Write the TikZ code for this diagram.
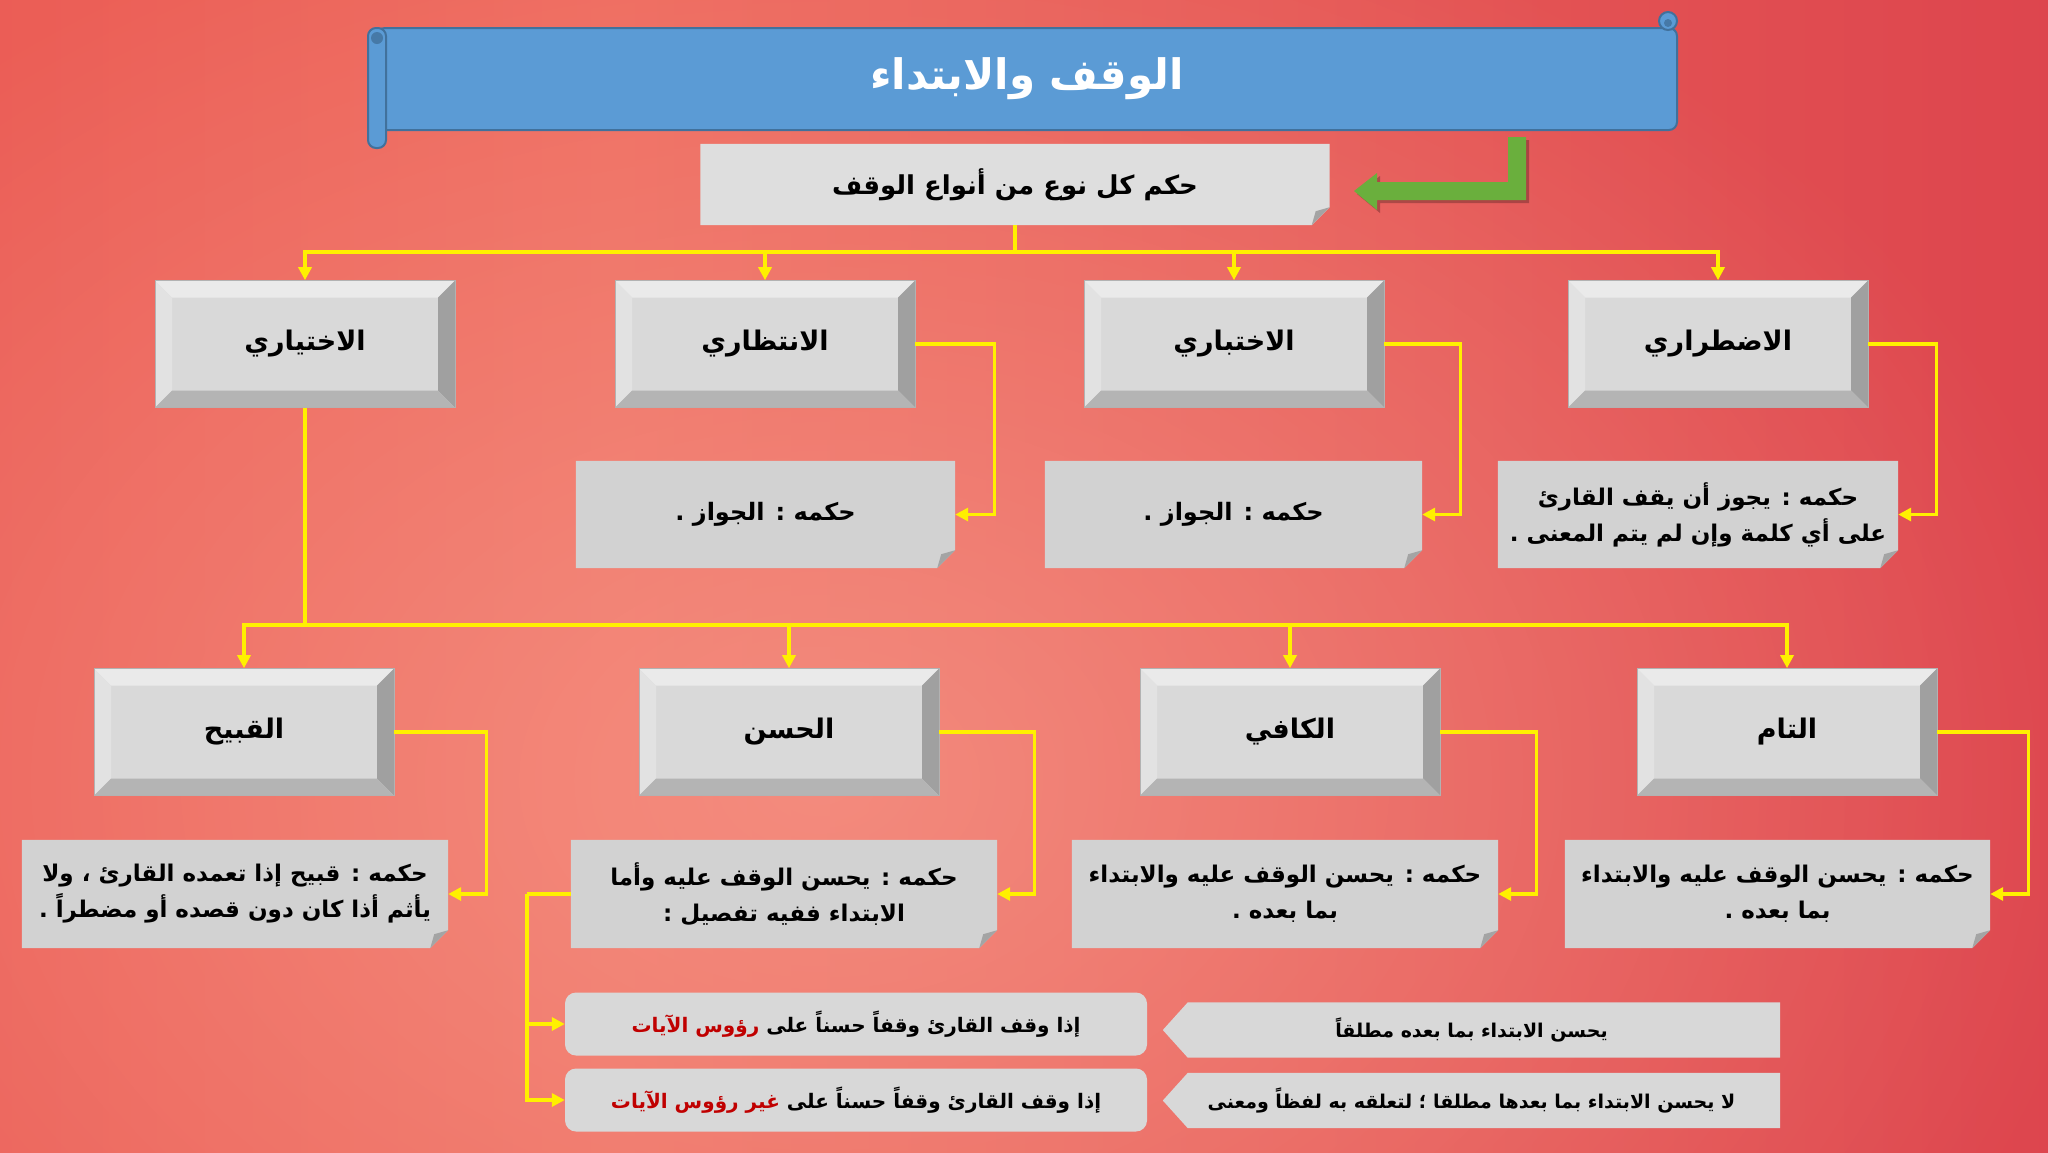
\documentclass[tikz,border=0pt]{standalone}
\usepackage{fontspec}
\newfontfamily\arabicfont[Script=Arabic]{DejaVu Sans}
\TeXXeTstate=1
\usetikzlibrary{arrows.meta,fadings}
\pgfdeclarelayer{back}
\pgfdeclarelayer{shapes}
\pgfsetlayers{back,shapes,main}
\definecolor{bfront}{HTML}{D9D9D9}
\definecolor{btop}{HTML}{EAEAEA}
\definecolor{bleft}{HTML}{E2E2E2}
\definecolor{bright}{HTML}{A0A0A0}
\definecolor{bbot}{HTML}{B4B4B4}
\definecolor{foldc}{HTML}{D2D2D2}
\definecolor{foldlight}{HTML}{DEDEDE}
\definecolor{foldd}{HTML}{A4A4A4}
\definecolor{yl}{HTML}{FFF000}
\definecolor{bannerblue}{HTML}{5B9BD5}
\definecolor{bannerline}{HTML}{41719C}
\definecolor{grn}{HTML}{6AAF3D}
\definecolor{dred}{HTML}{C00000}
\definecolor{bgl}{HTML}{E64848}
\definecolor{bgm}{HTML}{EE6A5E}
\definecolor{bgr}{HTML}{D12B42}
\definecolor{bglight}{HTML}{F8A090}
\definecolor{botbox}{HTML}{D8D8D8}
\pgfdeclarehorizontalshading{bgshade}{100bp}{color(0bp)=(bgl); color(40bp)=(bgm); color(100bp)=(bgr)}
\tikzfading[name=radfade, inner color=transparent!35, outer color=transparent!100]
\newcommand\rtl[1]{\beginR#1\endR}
\newcommand\lblfont{\arabicfont\bfseries\fontsize{27}{32}\selectfont}
\newcommand\hkmfont{\arabicfont\bfseries\fontsize{24}{36}\selectfont}
\newcommand\hkmfontb{\arabicfont\bfseries\fontsize{23}{36}\selectfont}
\newcommand\smallarfont{\arabicfont\bfseries\fontsize{20}{24}\selectfont}
\tikzset{
  bevelbox/.style={rectangle, minimum width=300pt, minimum height=127pt, inner sep=0pt,
    fill=bfront, draw=gray!60, line width=0.6pt, font=\lblfont,
    path picture={
      \path (path picture bounding box.north west) coordinate (pnw)
            (path picture bounding box.north east) coordinate (pne)
            (path picture bounding box.south west) coordinate (psw)
            (path picture bounding box.south east) coordinate (pse);
      \fill[btop] (pnw) -- (pne) -- ([shift={(-17pt,-17pt)}]pne) -- ([shift={(17pt,-17pt)}]pnw) -- cycle;
      \fill[bleft] (pnw) -- ([shift={(17pt,-17pt)}]pnw) -- ([shift={(17pt,17pt)}]psw) -- (psw) -- cycle;
      \fill[bright] (pne) -- (pse) -- ([shift={(-17pt,17pt)}]pse) -- ([shift={(-17pt,-17pt)}]pne) -- cycle;
      \fill[bbot] (psw) -- (pse) -- ([shift={(-17pt,17pt)}]pse) -- ([shift={(17pt,17pt)}]psw) -- cycle;
    }},
  foldbox/.style={rectangle, inner sep=0pt, align=center, font=\hkmfont},
  lbox/.style={rectangle, rounded corners=11pt, fill=botbox, minimum width=582pt, minimum height=63pt, inner sep=0pt, font=\smallarfont},
  rbox/.style={rectangle, minimum width=617pt, minimum height=55pt, inner sep=0pt, font=\arabicfont\bfseries\fontsize{19}{24}\selectfont},
  yline/.style={draw=yl, line width=3.5pt},
  yarrow/.style={yline, -{Triangle[length=13pt,width=13pt]}},
}
\begin{document}
\begin{tikzpicture}[x=1pt,y=-1pt]
\useasboundingbox (0,0) rectangle (2048,1152);
\begin{pgfonlayer}{back}
  \shade[shading=bgshade] (0,0) rectangle (2048,1152);
  \begin{scope}
    \clip (0,0) rectangle (2048,1152);
    \fill[bglight, path fading=radfade] (820,780) ellipse (1300 and 950);
  \end{scope}
\end{pgfonlayer}

% title banner
\node[rectangle, rounded corners=8pt, fill=bannerblue, draw=bannerline, line width=2pt,
  minimum width=1300pt, minimum height=102pt, inner sep=0pt, text=white,
  font=\arabicfont\bfseries\fontsize{42}{50}\selectfont] (title) at (1027,79) {\rtl{الوقف والابتداء}};
\fill[bannerblue, draw=bannerline, line width=2pt, rounded corners=8pt] (368,28) rectangle (386,148);
\fill[bannerline!80!bannerblue] (377,38) circle (6);
\fill[bannerblue, draw=bannerline, line width=2pt] (1668,21) circle (9);
\fill[bannerline!80!bannerblue] (1668,23) circle (4);

% sub header
\node[foldbox, minimum width=629pt, minimum height=81pt, font=\arabicfont\bfseries\fontsize{26}{32}\selectfont] (sub) at (1015,184.5) {\rtl{حكم كل نوع من أنواع الوقف}};

% green arrow
\fill[black, opacity=0.25] (1511,140) -- (1529,140) -- (1529,203) -- (1380,203) -- (1380,213) -- (1357,194) -- (1380,176) -- (1380,185) -- (1511,185) -- cycle;
\fill[grn] (1508,137) -- (1526,137) -- (1526,200) -- (1377,200) -- (1377,210) -- (1354,191) -- (1377,173) -- (1377,182) -- (1508,182) -- cycle;

% row 1
\node[bevelbox] (a1) at (305,344) {\rtl{الاختياري}};
\node[bevelbox] (a2) at (765,344) {\rtl{الانتظاري}};
\node[bevelbox] (a3) at (1234,344) {\rtl{الاختباري}};
\node[bevelbox] (a4) at (1718,344) {\rtl{الاضطراري}};

\node[foldbox, minimum width=379pt, minimum height=107pt] (h2) at (765.5,514.5) {\rtl{حكمه : الجواز .}};
\node[foldbox, minimum width=377pt, minimum height=107pt] (h3) at (1233.5,514.5) {\rtl{حكمه : الجواز .}};
\node[foldbox, minimum width=400pt, minimum height=107pt, font=\hkmfontb] (h4) at (1698,514.5) {\rtl{حكمه : يجوز أن يقف القارئ}\\\rtl{على أي كلمة وإن لم يتم المعنى .}};

% row 2
\node[bevelbox] (b1) at (244,732) {\rtl{القبيح}};
\node[bevelbox] (b2) at (789,732) {\rtl{الحسن}};
\node[bevelbox] (b3) at (1290,732) {\rtl{الكافي}};
\node[bevelbox] (b4) at (1787,732) {\rtl{التام}};

\node[foldbox, minimum width=426pt, minimum height=108pt, font=\hkmfontb] (k1) at (235,894) {\rtl{حكمه : قبيح إذا تعمده القارئ ، ولا}\\\rtl{يأثم أذا كان دون قصده أو مضطراً .}};
\node[foldbox, minimum width=426pt, minimum height=108pt, font=\hkmfontb] (k2) at (784,894) {\rtl{حكمه : يحسن الوقف عليه وأما}\\\rtl{الابتداء ففيه تفصيل :}};
\node[foldbox, minimum width=426pt, minimum height=108pt, font=\hkmfontb] (k3) at (1285,894) {\rtl{حكمه : يحسن الوقف عليه والابتداء}\\\rtl{بما بعده .}};
\node[foldbox, minimum width=425pt, minimum height=108pt, font=\hkmfontb] (k4) at (1777.5,894) {\rtl{حكمه : يحسن الوقف عليه والابتداء}\\\rtl{بما بعده .}};

% bottom boxes
\node[lbox] (l1) at (856,1024) {{\color{dred}\rtl{رؤوس الآيات}} \rtl{إذا وقف القارئ وقفاً حسناً على}};
\node[lbox] (l2) at (856,1100) {{\color{dred}\rtl{غير رؤوس الآيات}} \rtl{إذا وقف القارئ وقفاً حسناً على}};
\node[rbox] (r1) at (1471.5,1030) {\rtl{يحسن الابتداء بما بعده مطلقاً}};
\node[rbox] (r2) at (1471.5,1100.5) {\rtl{لا يحسن الابتداء بما بعدها مطلقا ؛ لتعلقه به لفظاً ومعنى}};

\begin{pgfonlayer}{shapes}
  \foreach \n/\c in {sub/foldlight, h2/foldc, h3/foldc, h4/foldc, k1/foldc, k2/foldc, k3/foldc, k4/foldc} {
    \fill[\c] (\n.north west) -- (\n.north east) -- ([yshift=18pt]\n.south east) -- ([xshift=-18pt]\n.south east) -- (\n.south west) -- cycle;
    \fill[foldd] ([yshift=18pt]\n.south east) -- ([xshift=-18pt]\n.south east) -- ([shift={(-14pt,14pt)}]\n.south east) -- cycle;
  }
  \foreach \n in {r1, r2} {
    \fill[botbox] (\n.west) -- ([xshift=25pt]\n.north west) -- (\n.north east) -- (\n.south east) -- ([xshift=25pt]\n.south west) -- cycle;
  }
\end{pgfonlayer}

% connectors
\coordinate (t1) at (1015,252);
\draw[yline] (sub.south) -- (t1);
\foreach \n in {a1,a2,a3,a4} \draw[yarrow] (t1) -| (\n.north);
\draw[yarrow] (a2.east) -- ++(79,0) |- (h2.east);
\draw[yarrow] (a3.east) -- ++(76,0) |- (h3.east);
\draw[yarrow] (a4.east) -- ++(68,0) |- (h4.east);

\coordinate (t2) at (305,625);
\draw[yline] (a1.south) -- (t2);
\foreach \n in {b1,b2,b3,b4} \draw[yarrow] (t2) -| (\n.north);
\draw[yarrow] (b1.east) -- ++(92,0) |- (k1.east);
\draw[yarrow] (b2.east) -- ++(95,0) |- (k2.east);
\draw[yarrow] (b3.east) -- ++(96,0) |- (k3.east);
\draw[yarrow] (b4.east) -- ++(91,0) |- (k4.east);

\coordinate (t3) at (527,894);
\draw[yline] (k2.west) -- (t3);
\draw[yarrow] (t3) |- (l1.west);
\draw[yarrow] (t3) |- (l2.west);
\end{tikzpicture}
\end{document}
